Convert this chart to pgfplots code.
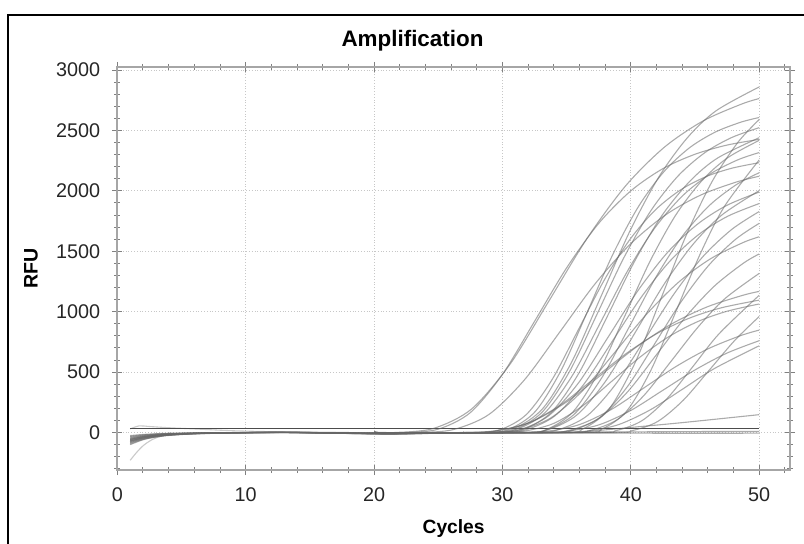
\documentclass[border=0pt]{standalone}
\usepackage{fontspec}
\setmainfont{Liberation Sans}
\usepackage{pgfplots}
\pgfplotsset{compat=1.18}
\begin{document}
\begin{tikzpicture}[x=1pt,y=1pt]
\useasboundingbox (0,0) rectangle (402,271.5);
\draw[line width=1pt] (4,-20) -- (4,264) -- (420,264);
\node[font=\bfseries\fontsize{11.2}{13}\selectfont, anchor=base] at (206.25,248.15) {Amplification};
\begin{axis}[
  at={(58.65pt,36.5pt)}, anchor=south west,
  width=336.35pt, height=201.5pt, scale only axis,
  xmin=0, xmax=52.4, ymin=-310, ymax=3025,
  xtick={0,10,...,50}, ytick={0,500,...,3000},
  minor xtick={0,2,...,52}, minor ytick={-300,-200,...,3000},
  tick align=center,
  major tick length=5pt, minor tick length=3pt,
  xmajorgrids, ymajorgrids,
  major grid style={densely dotted, black!22, line width=0.5pt},
  axis line style={black!35, line width=0.8pt},
  every tick/.style={black!50, line width=0.5pt},
  ticklabel style={font=\fontsize{9.9}{11}\selectfont, text=black!85},
  yticklabel style={xshift=-2.5pt},
  xticklabel style={yshift=-3pt},
  /pgf/number format/assume math mode=true,
  /pgf/number format/1000 sep={},
  xlabel={Cycles}, ylabel={RFU},
  x label style={font=\bfseries\fontsize{9.6}{11}\selectfont, at={(rel axis cs:0.5,0)}, anchor=base, yshift=-31.5pt},
  y label style={font=\bfseries\fontsize{9.8}{11}\selectfont, at={(rel axis cs:0,0.5)}, anchor=center, yshift=43.15pt},
  cv/.style={smooth, black!60, opacity=0.55, line width=0.55pt, mark=none},
]
% baseline noise
\addplot[cv] coordinates {(1,-25)(2,-16)(3,-10)(4,-6)(6,-3)(9,-1)(13,2)(17,-3)(21,-8)(24,-5)(27,0)};
\addplot[cv] coordinates {(1,-32)(2,-20)(3,-13)(4,-8)(6,-4)(9,-1)(13,1)(17,-4)(21,-10)(24,-6)(27,0)};
\addplot[cv] coordinates {(1,-38)(2,-24)(3,-15)(4,-10)(6,-5)(9,0)(13,2)(17,-5)(21,-9)(24,-4)(27,0)};
\addplot[cv] coordinates {(1,-45)(2,-28)(3,-18)(4,-12)(6,-5)(9,-2)(13,0)(17,-6)(21,-11)(24,-7)(27,0)};
\addplot[cv] coordinates {(1,-50)(2,-31)(3,-20)(4,-13)(6,-6)(9,-1)(13,3)(17,-2)(21,-7)(24,-4)(27,0)};
\addplot[cv] coordinates {(1,-55)(2,-34)(3,-22)(4,-14)(6,-7)(9,-2)(13,1)(17,-5)(21,-12)(24,-8)(27,0)};
\addplot[cv] coordinates {(1,-60)(2,-37)(3,-24)(4,-16)(6,-7)(9,-2)(13,2)(17,-3)(21,-8)(24,-5)(27,0)};
\addplot[cv] coordinates {(1,-65)(2,-40)(3,-26)(4,-17)(6,-8)(9,-3)(13,0)(17,-6)(21,-10)(24,-6)(27,0)};
\addplot[cv] coordinates {(1,-70)(2,-43)(3,-28)(4,-18)(6,-8)(9,-2)(13,2)(17,-4)(21,-9)(24,-5)(27,0)};
\addplot[cv] coordinates {(1,-75)(2,-46)(3,-30)(4,-20)(6,-9)(9,-3)(13,1)(17,-5)(21,-11)(24,-7)(27,0)};
\addplot[cv] coordinates {(1,-80)(2,-50)(3,-32)(4,-21)(6,-10)(9,-3)(13,0)(17,-4)(21,-8)(24,-4)(27,0)};
\addplot[cv] coordinates {(1,-85)(2,-53)(3,-34)(4,-22)(6,-10)(9,-3)(13,2)(17,-3)(21,-9)(24,-6)(27,0)};
\addplot[cv] coordinates {(1,-92)(2,-57)(3,-37)(4,-24)(6,-11)(9,-4)(13,1)(17,-6)(21,-12)(24,-7)(27,0)};
\addplot[cv] coordinates {(1,-100)(2,-60)(3,-36)(4,-22)(6,-9)(9,-2)(13,1)(17,-4)(21,-9)(24,-5)(27,0)};
\addplot[cv, opacity=0.35] coordinates {(1,-230)(1.5,-165)(2,-110)(2.5,-72)(3,-45)(4,-18)(6,-6)(9,-1)(13,1)(17,-3)(21,-7)(24,-4)(27,0)};
\addplot[cv, opacity=0.35] coordinates {(1,30)(1.7,55)(2.5,50)(4,40)(6,30)(9,15)(13,5)(17,0)(21,-5)(24,-3)(27,0)};
\addplot[black!70, line width=0.6pt] coordinates {(1,32)(50,32)};
\addplot[cv] coordinates {(1,-70)(2,-45)(3,-28)(4,-18)(6,-8)(9,-2)(15,0)(25,-2)(35,3)(45,8)(50,10)};
\addplot[cv] coordinates {(1,-58)(2,-36)(4,-14)(6,-6)(9,-1)(15,1)(25,-3)(35,-4)(45,-6)(50,-5)};
% amplification curves
\addplot[cv] coordinates {(20,0)(21.6,0)(24.6,33)(27.6,195)(30.6,567)(33.6,1085)(36.6,1608)(39.6,2042)(42.6,2360)(45.6,2577)(48.6,2717)(50,2764)};
\addplot[cv] coordinates {(20,0)(22.5,0)(25,28)(27.5,165)(30,481)(32.5,920)(35,1363)(37.5,1731)(40,2000)(42.5,2184)(45,2303)(47.5,2379)(50,2426)};
\addplot[cv] coordinates {(20,0)(23.44,0)(26.19,25)(28.94,149)(31.69,433)(34.44,828)(37.19,1227)(39.94,1557)(42.69,1800)(45.44,1965)(48.19,2072)(50,2121)};
\addplot[cv] coordinates {(20,0)(28.66,2)(30.91,34)(33.16,201)(35.41,587)(37.66,1122)(39.91,1663)(42.16,2111)(44.41,2440)(46.66,2664)(50,2860)};
\addplot[cv] coordinates {(20,0)(28.59,0)(30.59,31)(32.59,178)(34.59,519)(36.59,993)(38.59,1472)(40.59,1869)(42.59,2160)(44.59,2358)(46.59,2487)(48.59,2569)(50,2607)};
\addplot[cv] coordinates {(20,0)(28.95,0)(31.05,30)(33.15,175)(35.25,510)(37.35,975)(39.45,1445)(41.55,1834)(43.65,2120)(45.75,2315)(47.85,2441)(50,2523)};
\addplot[cv] coordinates {(20,0)(28.99,0)(31.14,28)(33.29,162)(35.44,471)(37.59,901)(39.74,1336)(41.89,1696)(44.04,1960)(46.19,2140)(48.34,2257)(50,2317)};
\addplot[cv] coordinates {(20,0)(27.89,0)(29.89,26)(31.89,152)(33.89,442)(35.89,846)(37.89,1254)(39.89,1592)(41.89,1840)(43.89,2009)(45.89,2119)(47.89,2188)(50,2233)};
\addplot[cv] coordinates {(20,0)(26.7,0)(29.45,15)(32.2,86)(34.95,250)(37.7,478)(40.45,709)(43.2,900)(45.95,1040)(48.7,1135)(50,1168)};
\addplot[cv] coordinates {(20,0)(27,0)(29.5,13)(32,78)(34.5,227)(37,434)(39.5,643)(42,817)(44.5,944)(47,1031)(50,1096)};
\addplot[cv] coordinates {(20,0)(29.5,0)(31.75,13)(34,76)(36.25,221)(38.5,423)(40.75,627)(43,796)(45.25,920)(47.5,1004)(50,1064)};
\addplot[cv] coordinates {(20,0)(31,0)(33.5,11)(36,66)(38.5,192)(41,368)(43.5,545)(46,692)(48.5,800)(50,848)};
\addplot[cv] coordinates {(20,0)(32.5,0)(35,11)(37.5,63)(40,183)(42.5,350)(45,518)(47.5,658)(50,760)};
\addplot[cv] coordinates {(20,0)(34,0)(36.5,11)(39,64)(41.5,187)(44,357)(46.5,529)(50,718)};
\addplot[cv] coordinates {(20,0)(34,0)(36,4)(38,22)(40,42)(44,82)(50,148)};
\addplot[cv] coordinates {(20,0)(31.5,0)(33.5,29)(35.5,172)(37.5,500)(39.5,957)(41.5,1418)(43.5,1800)(45.5,2080)(47.5,2271)(50,2418)};
\addplot[cv] coordinates {(20,0)(31.43,0)(33.53,27)(35.63,155)(37.73,452)(39.83,865)(41.93,1281)(44.03,1627)(46.13,1880)(48.23,2052)(50,2150)};
\addplot[cv] coordinates {(20,0)(31.34,0)(33.59,25)(35.84,149)(38.09,433)(40.34,828)(42.59,1227)(44.84,1557)(47.09,1800)(50,2002)};
\addplot[cv] coordinates {(20,0)(29.55,0)(31.8,23)(34.05,135)(36.3,394)(38.55,754)(40.8,1118)(43.05,1419)(45.3,1640)(47.55,1790)(50,1895)};
\addplot[cv] coordinates {(20,0)(32.1,0)(34.35,24)(36.6,139)(38.85,404)(41.1,773)(43.35,1145)(45.6,1454)(47.85,1680)(50,1829)};
\addplot[cv] coordinates {(20,0)(33.47,0)(35.57,23)(37.67,132)(39.77,385)(41.87,736)(43.97,1090)(46.07,1384)(48.17,1600)(50,1731)};
\addplot[cv] coordinates {(20,0)(28.74,0)(31.24,20)(33.74,119)(36.24,346)(38.74,662)(41.24,981)(43.74,1246)(46.24,1440)(48.74,1572)(50,1620)};
\addplot[cv] coordinates {(20,0)(33,0)(35.25,20)(37.5,116)(39.75,337)(42,644)(44.25,954)(46.5,1211)(48.75,1400)(50,1478)};
\addplot[cv] coordinates {(20,0)(34.73,0)(36.83,18)(38.93,106)(41.03,308)(43.13,589)(45.23,872)(47.33,1108)(50,1317)};
\addplot[cv] coordinates {(20,0)(34.33,0)(36.33,34)(38.33,198)(40.33,577)(42.33,1104)(44.33,1636)(46.33,2077)(48.33,2400)(50,2590)};
\addplot[cv] coordinates {(20,0)(35.88,0)(37.78,31)(39.68,178)(41.58,519)(43.48,993)(45.38,1472)(47.28,1869)(50,2256)};
\addplot[cv] coordinates {(20,0)(36.88,0)(38.88,17)(40.88,99)(42.88,288)(44.88,552)(46.88,818)(50,1136)};
\addplot[cv] coordinates {(20,0)(38.1,0)(40.1,16)(42.1,92)(44.1,269)(46.1,515)(48.1,763)(50,960)};
\addplot[cv] coordinates {(20,0)(29.04,0)(31.34,24)(33.64,142)(35.94,413)(38.24,791)(40.54,1172)(42.84,1488)(45.14,1720)(47.44,1878)(50,1990)};
\addplot[cv] coordinates {(20,0)(29.55,0)(31.7,29)(33.85,172)(36,500)(38.15,957)(40.3,1418)(42.45,1800)(44.6,2080)(46.75,2271)(50,2440)};
\end{axis}
\end{tikzpicture}
\end{document}
